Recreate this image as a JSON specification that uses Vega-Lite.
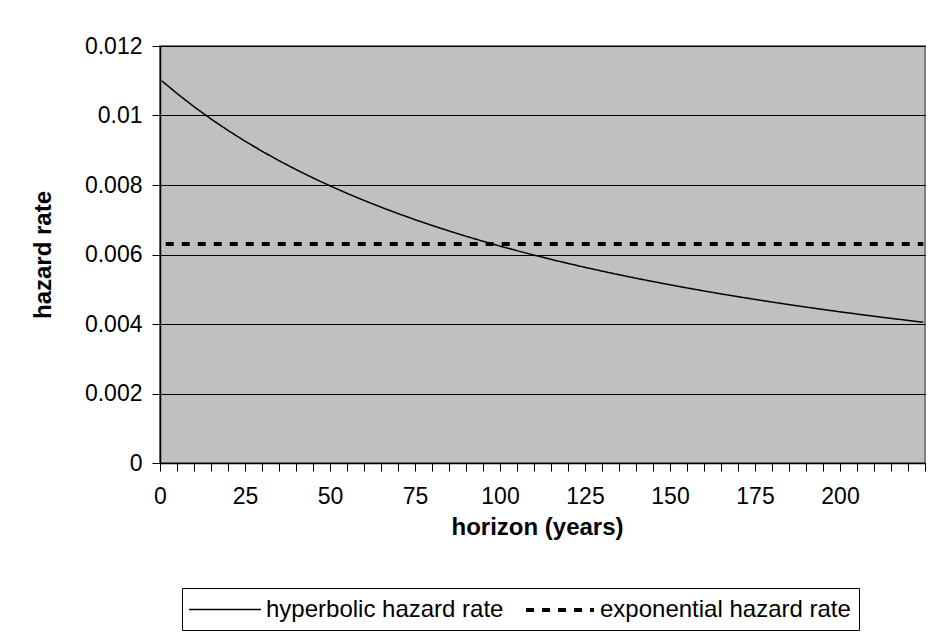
{
  "$schema": "https://vega.github.io/schema/vega-lite/v6.json",
  "width": 765,
  "height": 417,
  "autosize": {"type": "none"},
  "padding": {"left": 160, "top": 46, "right": 8, "bottom": 180},
  "background": "white",
  "config": {
    "font": "Liberation Sans",
    "view": {"fill": "#C0C0C0", "stroke": "#808080", "strokeWidth": 2}
  },
  "data": {
    "values": [
      {"year": 0, "rate": 0.011, "series": "hyperbolic hazard rate"},
      {"year": 5, "rate": 0.010594, "series": "hyperbolic hazard rate"},
      {"year": 10, "rate": 0.010217, "series": "hyperbolic hazard rate"},
      {"year": 15, "rate": 0.009866, "series": "hyperbolic hazard rate"},
      {"year": 20, "rate": 0.009539, "series": "hyperbolic hazard rate"},
      {"year": 25, "rate": 0.009232, "series": "hyperbolic hazard rate"},
      {"year": 30, "rate": 0.008945, "series": "hyperbolic hazard rate"},
      {"year": 35, "rate": 0.008674, "series": "hyperbolic hazard rate"},
      {"year": 40, "rate": 0.00842, "series": "hyperbolic hazard rate"},
      {"year": 45, "rate": 0.00818, "series": "hyperbolic hazard rate"},
      {"year": 50, "rate": 0.007954, "series": "hyperbolic hazard rate"},
      {"year": 55, "rate": 0.007739, "series": "hyperbolic hazard rate"},
      {"year": 60, "rate": 0.007536, "series": "hyperbolic hazard rate"},
      {"year": 65, "rate": 0.007344, "series": "hyperbolic hazard rate"},
      {"year": 70, "rate": 0.007161, "series": "hyperbolic hazard rate"},
      {"year": 75, "rate": 0.006986, "series": "hyperbolic hazard rate"},
      {"year": 80, "rate": 0.00682, "series": "hyperbolic hazard rate"},
      {"year": 85, "rate": 0.006662, "series": "hyperbolic hazard rate"},
      {"year": 90, "rate": 0.006511, "series": "hyperbolic hazard rate"},
      {"year": 95, "rate": 0.006367, "series": "hyperbolic hazard rate"},
      {"year": 100, "rate": 0.006229, "series": "hyperbolic hazard rate"},
      {"year": 105, "rate": 0.006097, "series": "hyperbolic hazard rate"},
      {"year": 110, "rate": 0.00597, "series": "hyperbolic hazard rate"},
      {"year": 115, "rate": 0.005848, "series": "hyperbolic hazard rate"},
      {"year": 120, "rate": 0.005732, "series": "hyperbolic hazard rate"},
      {"year": 125, "rate": 0.005619, "series": "hyperbolic hazard rate"},
      {"year": 130, "rate": 0.005512, "series": "hyperbolic hazard rate"},
      {"year": 135, "rate": 0.005408, "series": "hyperbolic hazard rate"},
      {"year": 140, "rate": 0.005308, "series": "hyperbolic hazard rate"},
      {"year": 145, "rate": 0.005212, "series": "hyperbolic hazard rate"},
      {"year": 150, "rate": 0.005119, "series": "hyperbolic hazard rate"},
      {"year": 155, "rate": 0.005029, "series": "hyperbolic hazard rate"},
      {"year": 160, "rate": 0.004942, "series": "hyperbolic hazard rate"},
      {"year": 165, "rate": 0.004859, "series": "hyperbolic hazard rate"},
      {"year": 170, "rate": 0.004778, "series": "hyperbolic hazard rate"},
      {"year": 175, "rate": 0.0047, "series": "hyperbolic hazard rate"},
      {"year": 180, "rate": 0.004624, "series": "hyperbolic hazard rate"},
      {"year": 185, "rate": 0.004551, "series": "hyperbolic hazard rate"},
      {"year": 190, "rate": 0.00448, "series": "hyperbolic hazard rate"},
      {"year": 195, "rate": 0.004411, "series": "hyperbolic hazard rate"},
      {"year": 200, "rate": 0.004344, "series": "hyperbolic hazard rate"},
      {"year": 205, "rate": 0.00428, "series": "hyperbolic hazard rate"},
      {"year": 210, "rate": 0.004217, "series": "hyperbolic hazard rate"},
      {"year": 215, "rate": 0.004156, "series": "hyperbolic hazard rate"},
      {"year": 220, "rate": 0.004097, "series": "hyperbolic hazard rate"},
      {"year": 224, "rate": 0.00405, "series": "hyperbolic hazard rate"},
      {"year": 0, "rate": 0.0063, "series": "exponential hazard rate"},
      {"year": 224, "rate": 0.0063, "series": "exponential hazard rate"}
    ]
  },
  "mark": {"type": "line", "color": "black", "clip": true},
  "encoding": {
    "x": {
      "field": "year",
      "type": "quantitative",
      "scale": {"domain": [-0.5, 224.5], "nice": false, "zero": false},
      "axis": {
        "values": [-0.5, 4.5, 9.5, 14.5, 19.5, 24.5, 29.5, 34.5, 39.5, 44.5, 49.5, 54.5, 59.5, 64.5, 69.5, 74.5, 79.5, 84.5, 89.5, 94.5, 99.5, 104.5, 109.5, 114.5, 119.5, 124.5, 129.5, 134.5, 139.5, 144.5, 149.5, 154.5, 159.5, 164.5, 169.5, 174.5, 179.5, 184.5, 189.5, 194.5, 199.5, 204.5, 209.5, 214.5, 219.5, 224.5],
        "labelExpr": "((datum.value + 0.5) % 25 == 0 && datum.value < 220) ? format(datum.value + 0.5, 'd') : ''",
        "grid": false,
        "domainColor": "black",
        "domainWidth": 1.5,
        "tickColor": "black",
        "tickSize": 8,
        "labelFontSize": 23,
        "labelColor": "black",
        "labelPadding": 14,
        "labelAngle": 0,
        "labelDx": 2,
        "labelFlush": false,
        "labelOverlap": false,
        "labelBound": false,
        "title": "horizon (years)",
        "titleFontSize": 24,
        "titleFontWeight": "bold",
        "titleColor": "black",
        "titleX": 377,
        "titleY": 64,
        "titleBaseline": "middle",
        "titleAlign": "center"
      }
    },
    "y": {
      "field": "rate",
      "type": "quantitative",
      "scale": {"domain": [0, 0.012], "nice": false},
      "axis": {
        "values": [0, 0.002, 0.004, 0.006, 0.008, 0.01, 0.012],
        "format": "~g",
        "grid": true,
        "gridColor": "black",
        "gridWidth": 1,
        "domainColor": "black",
        "domainWidth": 1.5,
        "tickColor": "black",
        "tickSize": 8,
        "labelFontSize": 23,
        "labelColor": "black",
        "labelPadding": 10,
        "labelFlush": false,
        "labelOverlap": false,
        "title": "hazard rate",
        "titleFontSize": 24,
        "titleFontWeight": "bold",
        "titleColor": "black",
        "titleX": -117,
        "titleY": 208.5,
        "titleAngle": -90,
        "titleBaseline": "middle",
        "titleAlign": "center"
      }
    },
    "strokeDash": {
      "field": "series",
      "type": "nominal",
      "scale": {"domain": ["hyperbolic hazard rate", "exponential hazard rate"], "range": [[1, 0], [0, 4, 8, 4]]},
      "legend": {
        "orient": "none",
        "legendX": 22,
        "legendY": 542,
        "direction": "horizontal",
        "title": null,
        "strokeColor": "black",
        "fillColor": "white",
        "padding": 8,
        "symbolType": "M-3,0H3",
        "symbolSize": 576,
        "symbolOffset": 22,
        "symbolStrokeColor": "black",
        "labelFontSize": 24,
        "labelColor": "black",
        "labelLimit": 400,
        "columnPadding": 10,
        "labelOffset": 28
      }
    },
    "strokeWidth": {
      "field": "series",
      "type": "nominal",
      "scale": {"domain": ["hyperbolic hazard rate", "exponential hazard rate"], "range": [1.5, 4]}
    }
  }
}
